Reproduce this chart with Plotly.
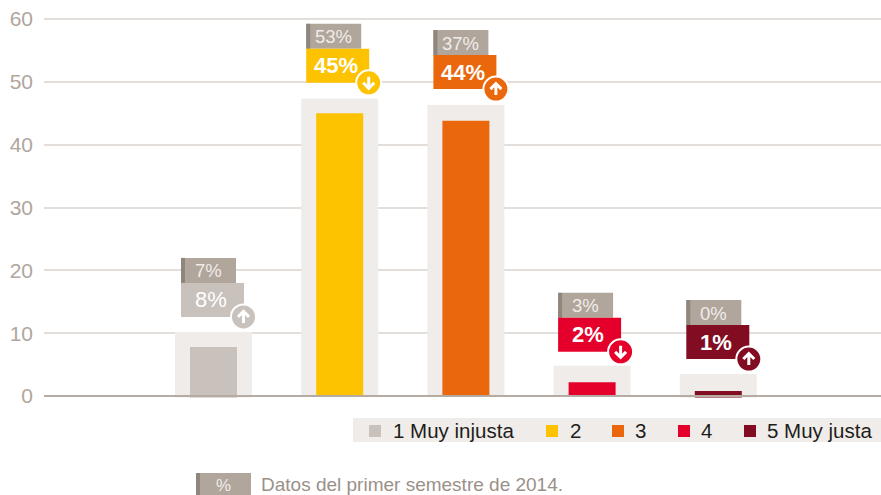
import plotly.graph_objects as go

categories = ["1 Muy injusta", "2", "3", "4", "5 Muy justa"]
values_2014 = [7.8, 45, 43.8, 2.2, 0.8]
envelope = [10.2, 47.3, 46.3, 4.8, 3.5]
label_now = ["8%", "45%", "44%", "2%", "1%"]
label_prev = ["7%", "53%", "37%", "3%", "0%"]
direction = ["up", "down", "up", "down", "up"]
y_ticks = [0, 10, 20, 30, 40, 50, 60]

colors = ["#c9c1bb", "#fdc300", "#ea670c", "#e4002b", "#820c21"]
BG = "#f0ecea"; GRID = "#e3ded9"; GREY = "#b0a69c"; STRIPE = "#8f867e"
FONT = "Liberation Sans"

# layout geometry
W, H = 881, 495
ML, MT, MB = 44, 10, 95
PW, PH = W - ML, H - MT - MB
CX0, STEP = 213.5, 126.2
box_dx = [-32.5, -33.5, -32.5, -34, -32]     # box left edge relative to bar centre, px
box_gap = [15, 16, 16, 14, 15]               # gap between envelope top and box, px
base_off = [-0.25, 0, 0, 0, -0.25]

def px(x): return (x - ML) / PW
def py(y): return (H - MB - y) / PH

x_idx = list(range(len(categories)))
fig = go.Figure()
fig.add_bar(x=x_idx, y=[e - b for e, b in zip(envelope, base_off)], base=base_off,
            width=77 / STEP, marker=dict(color=BG, line_width=0), hoverinfo="skip")
fig.add_bar(x=x_idx, y=[v - b for v, b in zip(values_2014, base_off)], base=base_off,
            width=47 / STEP, marker=dict(color=colors, line_width=0),
            customdata=categories, hovertemplate="%{customdata}: %{y}<extra></extra>")

shapes, anns = [], []
shapes.append(dict(type="line", xref="paper", yref="y", x0=0, x1=1, y0=0, y1=0,
                   line=dict(color="#b5aba2", width=2), layer="above"))

def pxrect(i, anchor, x0, x1, y0, y1, color):
    shapes.append(dict(type="rect", xref="x", yref="y", xsizemode="pixel", ysizemode="pixel",
                       xanchor=i, yanchor=anchor, x0=x0, x1=x1, y0=y0, y1=y1,
                       fillcolor=color, line_width=0, layer="above"))

for i in x_idx:
    a = envelope[i]; l = box_dx[i]; g = box_gap[i]
    # previous-period tag
    pxrect(i, a, l, l + 55, g + 34, g + 59, GREY)
    pxrect(i, a, l, l + 4, g + 34, g + 59, STRIPE)
    # current value tag
    pxrect(i, a, l, l + 63, g, g + 34, colors[i])
    # circle with white ring
    cx, cy = l + 62.5, g
    shapes.append(dict(type="circle", xref="x", yref="y", xsizemode="pixel", ysizemode="pixel",
                       xanchor=i, yanchor=a, x0=cx - 12.5, x1=cx + 12.5, y0=cy - 12.5, y1=cy + 12.5,
                       fillcolor=colors[i], line=dict(color="white", width=2), layer="above"))
    s = 1 if direction[i] == "up" else -1
    path = (f"M{cx},{cy - 6 * s} L{cx},{cy + 5 * s} "
            f"M{cx - 5.5},{cy} L{cx},{cy + 5.5 * s} L{cx + 5.5},{cy}")
    shapes.append(dict(type="path", xref="x", yref="y", xsizemode="pixel", ysizemode="pixel",
                       xanchor=i, yanchor=a, path=path,
                       line=dict(color="white", width=3), layer="above"))
    anns.append(dict(x=i, y=a, xref="x", yref="y", xshift=l + 30, yshift=g + 17,
                     text=f"<b>{label_now[i]}</b>" if i else label_now[i], showarrow=False,
                     font=dict(family=FONT, size=22, color="white")))
    anns.append(dict(x=i, y=a, xref="x", yref="y", xshift=l + 27.5, yshift=g + 46,
                     text=label_prev[i], showarrow=False,
                     font=dict(family=FONT, size=18.5, color="#f0ecea")))

# legend strip
shapes.append(dict(type="rect", xref="paper", yref="paper", x0=px(353), x1=px(881),
                   y0=py(442), y1=py(418), fillcolor=BG, line_width=0, layer="above"))
swatch_x = [369, 546, 612, 678, 744]
text_x = [392, 569, 634, 700, 766]
for c, name, sx, tx in zip(colors, categories, swatch_x, text_x):
    shapes.append(dict(type="rect", xref="paper", yref="paper", x0=px(sx), x1=px(sx + 12),
                       y0=py(437), y1=py(425), fillcolor=c, line_width=0, layer="above"))
    anns.append(dict(x=px(tx), y=py(430), xref="paper", yref="paper", xanchor="left",
                     yanchor="middle", text=name, showarrow=False, xshift=-1,
                     font=dict(family=FONT, size=20.5, color="#1d1d1b")))

# footnote
shapes.append(dict(type="rect", xref="paper", yref="paper", x0=px(196), x1=px(251),
                   y0=py(495), y1=py(473), fillcolor=GREY, line_width=0, layer="above"))
shapes.append(dict(type="rect", xref="paper", yref="paper", x0=px(196), x1=px(200),
                   y0=py(495), y1=py(473), fillcolor=STRIPE, line_width=0, layer="above"))
anns.append(dict(x=px(223), y=py(485), xref="paper", yref="paper", xanchor="center",
                 yanchor="middle", text="%", showarrow=False,
                 font=dict(family=FONT, size=17, color="#f0ecea")))
anns.append(dict(x=px(260), y=py(484), xref="paper", yref="paper", xanchor="left",
                 yanchor="middle", xshift=-1,
                 text="Datos del primer semestre de 2014.", showarrow=False,
                 font=dict(family=FONT, size=19, color="#9a9088")))

fig.update_layout(
    width=W, height=H, autosize=False,
    margin=dict(l=ML, r=0, t=MT, b=MB, pad=0),
    paper_bgcolor="white", plot_bgcolor="white",
    barmode="overlay", showlegend=False,
    shapes=shapes, annotations=anns,
    xaxis=dict(range=[(ML - CX0) / STEP, (W - CX0) / STEP], visible=False, fixedrange=True),
    yaxis=dict(range=[-4 / 6.283, 386 / 6.283], tickvals=y_ticks, ticks="", showline=False,
               zeroline=False, gridcolor=GRID, gridwidth=2, ticklabelstandoff=10,
               tickfont=dict(family=FONT, size=21, color=GREY), fixedrange=True),
)
fig.write_html("out.html", config={"displayModeBar": False},
               post_script="document.body.style.margin='0';document.body.style.overflow='hidden';")
